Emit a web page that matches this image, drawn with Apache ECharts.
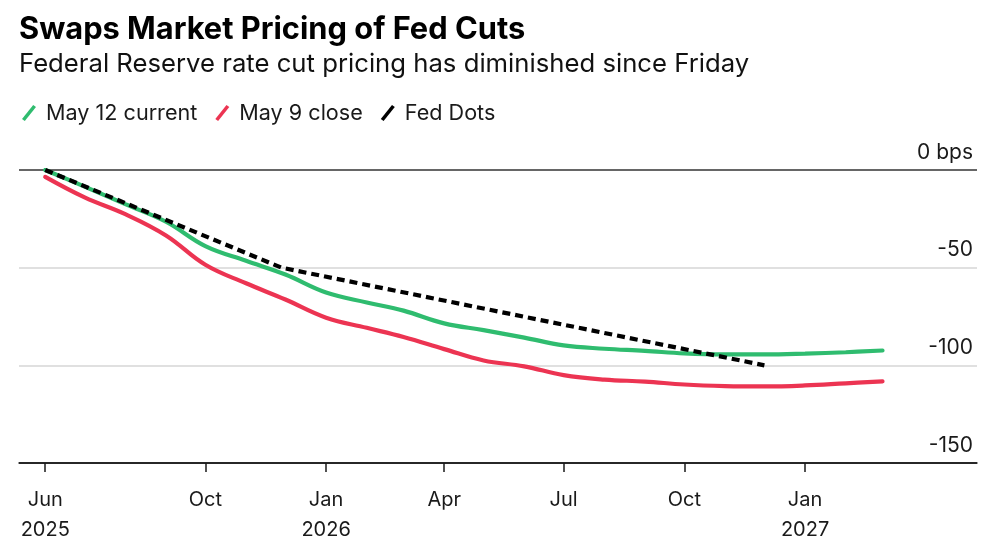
<!DOCTYPE html>
<html>
<head>
<meta charset="utf-8">
<title>Swaps Market Pricing of Fed Cuts</title>
<script src="https://cdn.jsdelivr.net/npm/echarts@6/dist/echarts.min.js"></script>
<style>
  html, body { margin: 0; padding: 0; background: #fff; }
  #chart { width: 1000px; height: 545px; }
</style>
</head>
<body>
<div id="chart"></div>
<script>
// monthly sample dates for the swaps curves
var dates = [
    '2025-06-01', '2025-07-01', '2025-08-01', '2025-09-01', '2025-10-01', '2025-11-01',
    '2025-12-01', '2026-01-01', '2026-02-01', '2026-03-01', '2026-04-01', '2026-05-01',
    '2026-06-01', '2026-07-01', '2026-08-01', '2026-09-01', '2026-10-01', '2026-11-01',
    '2026-12-01', '2027-01-01', '2027-02-01', '2027-03-01'
];
// bps of cuts priced
var may12Current = [
    0, -8.5, -17.5, -26.5, -39, -46.5,
    -53.5, -62.7, -67.8, -72, -78.5, -82,
    -85.8, -89.8, -91.5, -92.6, -93.9, -94.4,
    -94.4, -94, -93.3, -92.4
];
var may9Close = [
    -3.5, -14, -22.6, -33.5, -48.5, -58,
    -66.3, -75.6, -80.8, -85.5, -91.7, -97.5,
    -100.5, -105, -107.3, -108.3, -109.8, -110.6,
    -110.8, -110.3, -109.2, -108.2
];
// Fed dots path
var dotDates = ['2025-06-01', '2025-11-28', '2026-12-01'];
var fedDots = [0, -50, -100];

// x axis ticks
var tickDates = ['2025-06-01', '2025-10-01', '2026-01-01', '2026-04-01', '2026-07-01', '2026-10-01', '2027-01-01'];
var tickLabels = ['Jun\n2025', 'Oct', 'Jan\n2026', 'Apr', 'Jul', 'Oct', 'Jan\n2027'];

var FONT = 'Inter, "Liberation Sans", sans-serif';

function ts(d) { return Date.parse(d); }
function pairs(xs, ys) {
    return xs.map(function (d, i) { return [ts(d), ys[i]]; });
}
var tickValues = tickDates.map(ts);

var myChart = echarts.init(document.getElementById('chart'));
myChart.setOption({
    animation: false,
    backgroundColor: '#fff',
    textStyle: { fontFamily: FONT },
    title: {
        text: 'Swaps Market Pricing of Fed Cuts',
        subtext: 'Federal Reserve rate cut pricing has diminished since Friday',
        left: 14,
        top: 7,
        itemGap: 1,
        textStyle: { fontFamily: FONT, fontSize: 30.8, fontWeight: 'bold', color: '#000', lineHeight: 36 },
        subtextStyle: { fontFamily: FONT, fontSize: 25.7, color: '#111', lineHeight: 30 }
    },
    // 图例
    legend: {
        left: 17,
        top: 97,
        icon: 'path://M0,15 L12,0 L15,2 L3,17 Z',
        itemWidth: 14,
        itemHeight: 16,
        itemGap: 18,
        textStyle: { fontFamily: FONT, fontSize: 21.6, color: '#1a1a1a', padding: [0, 0, 0, 5] },
        data: ['May 12 current', 'May 9 close', 'Fed Dots']
    },
    grid: { left: 19, right: 23, top: 170, bottom: 78 },
    xAxis: {
        type: 'value',
        min: ts('2025-05-12'),
        max: ts('2027-05-12'),
        axisLine: { onZero: false, lineStyle: { color: '#1a1a1a', width: 1.5 } },
        axisTick: { customValues: tickValues, length: 9, lineStyle: { color: '#1a1a1a', width: 1.5 } },
        axisLabel: {
            customValues: tickValues,
            margin: 22,
            fontFamily: FONT,
            fontSize: 20,
            lineHeight: 30,
            color: '#1a1a1a',
            formatter: function (v) {
                var i = tickValues.indexOf(+v);
                return i >= 0 ? tickLabels[i] : '';
            }
        },
        splitLine: { show: false }
    },
    yAxis: {
        type: 'value',
        position: 'right',
        min: -150,
        max: 0,
        interval: 50,
        axisLine: { show: false },
        axisTick: { show: false },
        axisLabel: {
            inside: true,
            margin: 4,
            verticalAlign: 'bottom',
            padding: [0, 0, 7, 0],
            fontFamily: FONT,
            fontSize: 21,
            color: '#1a1a1a',
            formatter: function (v) { return v === 0 ? '0 bps' : String(v); }
        },
        splitLine: { lineStyle: { color: ['#1a1a1a', '#d6d6d6', '#d6d6d6', '#333'], width: 1.5 } }
    },
    series: [
        {
            name: 'May 12 current',
            type: 'line',
            smooth: 0.4,
            showSymbol: false,
            color: '#2fbc6f',
            lineStyle: { width: 4.2, cap: 'round' },
            data: pairs(dates, may12Current)
        },
        {
            name: 'May 9 close',
            type: 'line',
            smooth: 0.4,
            showSymbol: false,
            color: '#ec3452',
            lineStyle: { width: 4.2, cap: 'round' },
            data: pairs(dates, may9Close)
        },
        {
            name: 'Fed Dots',
            type: 'line',
            showSymbol: false,
            color: '#000',
            lineStyle: { width: 4.2, type: [8, 5] },
            data: pairs(dotDates, fedDots)
        }
    ]
});
</script>
</body>
</html>
